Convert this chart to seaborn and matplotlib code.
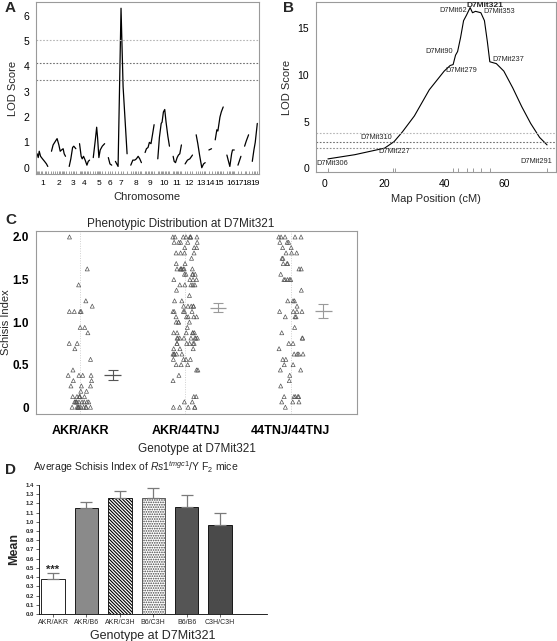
import numpy as np
import pandas as pd
import seaborn as sns
from matplotlib import pyplot as plt

sns.set_theme(style='white')
plt.rcParams['font.family'] = ['Liberation Sans', 'DejaVu Sans']
plt.rcParams['mathtext.fontset'] = 'custom'
plt.rcParams['mathtext.rm'] = 'Liberation Sans'
plt.rcParams['mathtext.it'] = 'Liberation Sans:italic'
plt.rcParams['hatch.linewidth'] = 0.8

# ---------------- data ----------------
# A: genome-wide scan, one list of (cM within chromosome, LOD) per chromosome
chrom_names = [str(i) for i in range(1, 20)]
chrom_len = [72, 95, 45, 68, 77, 23, 79, 72, 61, 79, 56, 50, 61, 18, 54, 50, 20, 27, 34]
chrom_cm = [
    [0, 7, 14, 23, 36, 50, 63, 72],
    [0, 11, 27, 38, 50, 59, 68, 79, 86, 95],
    [0, 11, 23, 31, 45],
    [0, 11, 18, 27, 38, 50, 59, 68],
    [0, 14, 23, 29, 38, 47, 61, 77],
    [0, 11, 23],
    [0, 18, 38, 52, 79],
    [0, 14, 27, 38, 50, 61, 72],
    [0, 9, 20, 29, 40, 50, 61],
    [0, 11, 23, 29, 38, 47, 56, 68, 79],
    [0, 7, 16, 27, 36, 45, 56],
    [0, 16, 32, 50],
    [0, 11, 23, 38, 50, 61],
    [0, 18],
    [0, 11, 18, 32, 41, 54],
    [0, 11, 20, 32, 38, 50],
    [0, 20],
    [0, 11, 27],
    [0, 11, 20, 34],
]
chrom_lod = [
    [0.55, 0.4, 0.65, 0.45, 0.35, 0.25, 0.15, 0.05],
    [0.65, 0.9, 1.05, 1.15, 0.9, 0.65, 0.7, 0.75, 0.55, 0.45],
    [0.05, 0.35, 0.8, 0.85, 0.75],
    [0.95, 0.45, 0.35, 0.45, 0.3, 0.1, 0.25, 0.3],
    [0.4, 1.1, 1.6, 1.2, 0.4, 0.7, 0.85, 0.95],
    [0.4, 0.15, 0.1],
    [0.25, 0.05, 6.3, 3.2, 0.55],
    [0.1, 0.3, 0.3, 0.35, 0.45, 0.35, 0.2],
    [0.6, 0.75, 0.8, 1.0, 0.95, 1.3, 1.7],
    [0.35, 1.2, 1.75, 1.8, 2.2, 2.3, 1.8, 1.25, 0.85],
    [0.45, 0.25, 0.2, 0.4, 0.5, 0.55, 0.9],
    [0.15, 0.3, 0.35, 0.5],
    [1.3, 0.95, 0.5, 0.0, 0.15, 0.2],
    [0.7, 0.75],
    [1.1, 1.5, 1.45, 2.0, 2.2, 2.4],
    [0.5, 0.25, 0.05, 0.55, 0.7, 0.7],
    [0.1, 0.45],
    [0.85, 1.05, 1.3],
    [0.25, 0.7, 1.0, 1.75],
]
thresholds_a = [5.05, 4.12, 3.45]

# B: chromosome 7 interval map
map_cm = [1, 10, 20, 23.2, 26, 30, 35, 38, 40, 42, 43, 43.8, 44.5, 45.5, 46.5,
          47.5, 48.7, 49.5, 50.5, 52.3, 53.5, 54.5, 55.3, 57.5, 60, 63, 66, 69, 72, 74.5]
map_lod = [1.0, 1.45, 2.15, 2.85, 3.9, 5.6, 8.4, 9.6, 10.4, 11.0, 11.1, 12.1, 12.5, 14.0, 15.8,
           16.4, 17.2, 16.65, 16.8, 16.65, 15.8, 13.5, 11.4, 11.2, 10.4, 8.6, 6.6, 4.8, 3.3, 2.5]
marker_names = ['D7Mit306', 'D7Mit310', 'D7Mit227', 'D7Mit279', 'D7Mit90',
                'D7Mit62', 'D7Mit321', 'D7Mit353', 'D7Mit237', 'D7Mit291']
marker_cm = [1, 23.6, 22.8, 43, 44.5, 47.5, 49.5, 52.3, 55.3, 74.5]
marker_lod = [1.0, 2.85, 2.8, 11.1, 12.5, 16.4, 16.65, 16.65, 11.4, 2.5]
thresholds_b = [3.8, 2.83, 2.15]

# C: schisis index per F2 mouse, as counts per score level
genotypes_c = ['AKR/AKR', 'AKR/44TNJ', '44TNJ/44TNJ']
levels_c = {
    'AKR/AKR': [2.0, 1.625, 1.4375, 1.25, 1.1875, 1.125, 0.9375, 0.875, 0.75, 0.6875,
                0.5625, 0.4375, 0.375, 0.3125, 0.25, 0.1875, 0.125, 0.0625, 0.0],
    'AKR/44TNJ': [2.0, 1.9375, 1.875, 1.8125, 1.75, 1.6875, 1.625, 1.5625, 1.5, 1.4375,
                  1.375, 1.3125, 1.25, 1.1875, 1.125, 1.0625, 1.0, 0.9375, 0.875, 0.8125,
                  0.75, 0.6875, 0.625, 0.5625, 0.5, 0.4375, 0.375, 0.3125, 0.125, 0.0625, 0.0],
    '44TNJ/44TNJ': [2.0, 1.9375, 1.875, 1.8125, 1.75, 1.6875, 1.625, 1.5625, 1.5, 1.375,
                    1.25, 1.1875, 1.125, 1.0625, 0.9375, 0.875, 0.8125, 0.75, 0.6875, 0.625,
                    0.5625, 0.5, 0.4375, 0.375, 0.3125, 0.25, 0.125, 0.0625, 0.0],
}
counts_c = {
    'AKR/AKR': [1, 1, 1, 1, 1, 4, 2, 1, 2, 1, 1, 1, 4, 2, 3, 2, 6, 9, 11],
    'AKR/44TNJ': [8, 5, 3, 4, 1, 2, 7, 5, 4, 5, 1, 1, 2, 5, 5, 5, 4, 1, 6, 8,
                  6, 3, 5, 4, 3, 2, 1, 1, 2, 2, 5],
    '44TNJ/44TNJ': [5, 3, 2, 3, 2, 3, 2, 1, 5, 1, 3, 1, 4, 3, 1, 1, 2, 2, 1, 4,
                    2, 2, 2, 1, 1, 1, 5, 3, 1],
}
mean_c = [0.38, 1.17, 1.13]
se_c = [0.06, 0.055, 0.08]

# D: average schisis index by genotype
genotypes_d = ['AKR/AKR', 'AKR/B6', 'AKR/C3H', 'B6/C3H', 'B6/B6', 'C3H/C3H']
mean_d = [0.385, 1.155, 1.26, 1.26, 1.16, 0.97]
se_d = [0.06, 0.06, 0.075, 0.105, 0.13, 0.125]

# ---------------- figure ----------------
fig = plt.figure(figsize=(5.57, 6.41), dpi=100)
frame_col = '#9a9a9a'


def frame(ax):
    for s in ax.spines.values():
        s.set_color(frame_col)
        s.set_linewidth(0.8)
    ax.tick_params(colors='black', length=3, width=0.6, color='#777777', labelsize=7.5, pad=2)


# ---- A ----
axa = fig.add_axes([0.0646, 0.7285, 0.400, 0.2685])
gap = 25
starts = np.concatenate([[0], np.cumsum(np.array(chrom_len[:-1]) + gap)])
centers = []
for st, ln, cm, lod in zip(starts, chrom_len, chrom_cm, chrom_lod):
    xs = st + np.array(cm)
    sns.lineplot(x=xs, y=lod, ax=axa, color='black', linewidth=0.9, estimator=None, sort=False)
    axa.vlines(xs, -0.25, -0.12, color='#8a8a8a', linewidth=0.6)
    centers.append(st + ln / 2)
for th, c in zip(thresholds_a, ['#b5b5b5', '#707070', '#808080']):
    axa.axhline(th, color=c, linestyle=(0, (1.5, 1.5)), linewidth=0.8)
axa.set_xlim(-8, starts[-1] + chrom_len[-1] + 10)
axa.set_ylim(-0.25, 6.55)
axa.set_xticks(centers)
axa.set_xticklabels(chrom_names)
axa.set_yticks(range(7))
frame(axa)
axa.tick_params(axis='x', labelsize=6.0, length=2)
axa.set_xlabel('Chromosome', fontsize=8, labelpad=4)
axa.set_ylabel('LOD Score', fontsize=8, labelpad=4)

# ---- B ----
axb = fig.add_axes([0.5673, 0.7317, 0.4309, 0.2652])
sns.lineplot(x=map_cm, y=map_lod, ax=axb, color='black', linewidth=0.8, estimator=None, sort=False)
for th, c in zip(thresholds_b, ['#b5b5b5', '#707070', '#909090']):
    axb.axhline(th, color=c, linestyle=(0, (1.5, 1.5)), linewidth=0.8)
axb.vlines(marker_cm, -0.4, 0.05, color='#8a8a8a', linewidth=0.6)
label_offsets = [(3, -3), (-2, 3), (1, -6.5), (6, -4), (-3, 0), (0, 3), (9, 5), (1.5, 1), (1.5, 1.5), (4, -12)]
label_align = ['center', 'right', 'center', 'center', 'right', 'right', 'center', 'left', 'left', 'right']
for nm, mx, my, off, ha in zip(marker_names, marker_cm, marker_lod, label_offsets, label_align):
    bold = nm == 'D7Mit321'
    axb.annotate(nm, (mx, my), xytext=off, textcoords='offset points', ha=ha, va='center',
                 fontsize=6 if bold else 5.3, fontweight='bold' if bold else 'normal')
axb.set_xlim(-3, 77.5)
axb.set_ylim(-0.4, 17.8)
axb.set_xticks([0, 20, 40, 60])
axb.set_yticks([0, 5, 10, 15])
frame(axb)
axb.set_xlabel('Map Position (cM)', fontsize=8, labelpad=4)
axb.set_ylabel('LOD Score', fontsize=8, labelpad=4)

# ---- C ----
axc = fig.add_axes([0.0646, 0.3541, 0.5763, 0.2855])
df_c = pd.DataFrame({
    'genotype': np.concatenate([[g] * sum(counts_c[g]) for g in genotypes_c]),
    'index': np.concatenate([np.repeat(levels_c[g], counts_c[g]) for g in genotypes_c]),
})
np.random.seed(7)
for i in range(len(genotypes_c)):
    axc.axvline(i, color='#d0d0d0', linestyle=(0, (1, 1.5)), linewidth=0.7, zorder=0)
sns.stripplot(data=df_c, x='genotype', y='index', order=genotypes_c, ax=axc, jitter=0.12,
              marker='^', size=2.9, color='#555555', linewidth=0.5)
for coll in axc.collections:
    coll.set_facecolor('none')
    coll.set_edgecolor('#555555')
    coll.set_linewidth(0.5)
xm = np.arange(len(genotypes_c)) + 0.31
for x, m, s, c in zip(xm, mean_c, se_c, ['#555555', '#9a9a9a', '#9a9a9a']):
    axc.errorbar(x, m, yerr=s, fmt='none', ecolor=c, capsize=3.5, elinewidth=0.8, capthick=0.8)
    axc.hlines(m, x - 0.08, x + 0.08, color=c, linewidth=0.9)
axc.set_xlim(-0.42, 2.63)
axc.set_ylim(-0.08, 2.07)
axc.set_yticks([0, 0.5, 1.0, 1.5, 2.0])
axc.set_yticklabels(['0', '0.5', '1.0', '1.5', '2.0'])
frame(axc)
axc.tick_params(axis='y', labelsize=8.5)
axc.tick_params(axis='x', labelsize=9, pad=5)
for t in axc.get_xticklabels() + axc.get_yticklabels():
    t.set_fontweight('bold')
axc.set_xlabel('Genotype at D7Mit321', fontsize=8.5, labelpad=4)
axc.set_ylabel('Schisis Index', fontsize=8)
axc.yaxis.set_label_coords(-0.078, 0.5)
axc.set_title('Phenotypic Distribution at D7Mit321', fontsize=8.5, pad=3, x=0.452)

# ---- D ----
axd = fig.add_axes([0.070, 0.0421, 0.409, 0.2013])
sns.barplot(x=genotypes_d, y=mean_d, ax=axd, width=0.7, edgecolor='black', linewidth=0.6)
styles = [('white', 'black', None), ('#8a8a8a', 'black', None), ('white', 'black', '\\' * 10),
          ('white', '#444444', '.......'), ('#555555', 'black', None), ('#4a4a4a', 'black', None)]
for p, (fc, ec, h) in zip(axd.patches, styles):
    p.set_facecolor(fc)
    p.set_edgecolor(ec)
    if h:
        p.set_hatch(h)
axd.errorbar(np.arange(len(genotypes_d)), mean_d, yerr=[np.zeros(len(se_d)), se_d], fmt='none',
             ecolor='#7a7a7a', capsize=4, elinewidth=0.9, capthick=0.9, zorder=1)
axd.text(0, mean_d[0] + se_d[0] - 0.02, '***', ha='center', va='bottom', fontsize=8, fontweight='bold')
axd.set_xlim(-0.42, 6.4)
axd.set_ylim(0, 1.4)
axd.set_yticks(np.arange(0, 1.41, 0.1))
axd.set_yticklabels([f'{v:.1f}' for v in np.arange(0, 1.41, 0.1)])
sns.despine(ax=axd)
for s in ['left', 'bottom']:
    axd.spines[s].set_color('black')
    axd.spines[s].set_linewidth(0.6)
axd.tick_params(axis='y', labelsize=4.3, length=2, width=0.5, pad=1.5, left=True)
axd.tick_params(axis='x', labelsize=5, length=2, width=0.5, pad=1.5, bottom=True)
for t in axd.get_yticklabels():
    t.set_fontweight('bold')
axd.set_xlabel('Genotype at D7Mit321', fontsize=9, labelpad=3)
axd.set_ylabel('Mean', fontsize=9, fontweight='bold', labelpad=4)
fig.text(0.06, 0.2714, r'Average Schisis Index of $\mathit{Rs1}^{\mathit{tmgc1}}$/Y F$_2$ mice',
         fontsize=7.5, va='center')

# panel letters
for lab, x, y in [('A', 0.009, 0.987), ('B', 0.508, 0.987), ('C', 0.009, 0.657), ('D', 0.009, 0.267)]:
    fig.text(x, y, lab, fontsize=11, fontweight='bold', va='center')

fig.savefig('out.png', dpi=100)
